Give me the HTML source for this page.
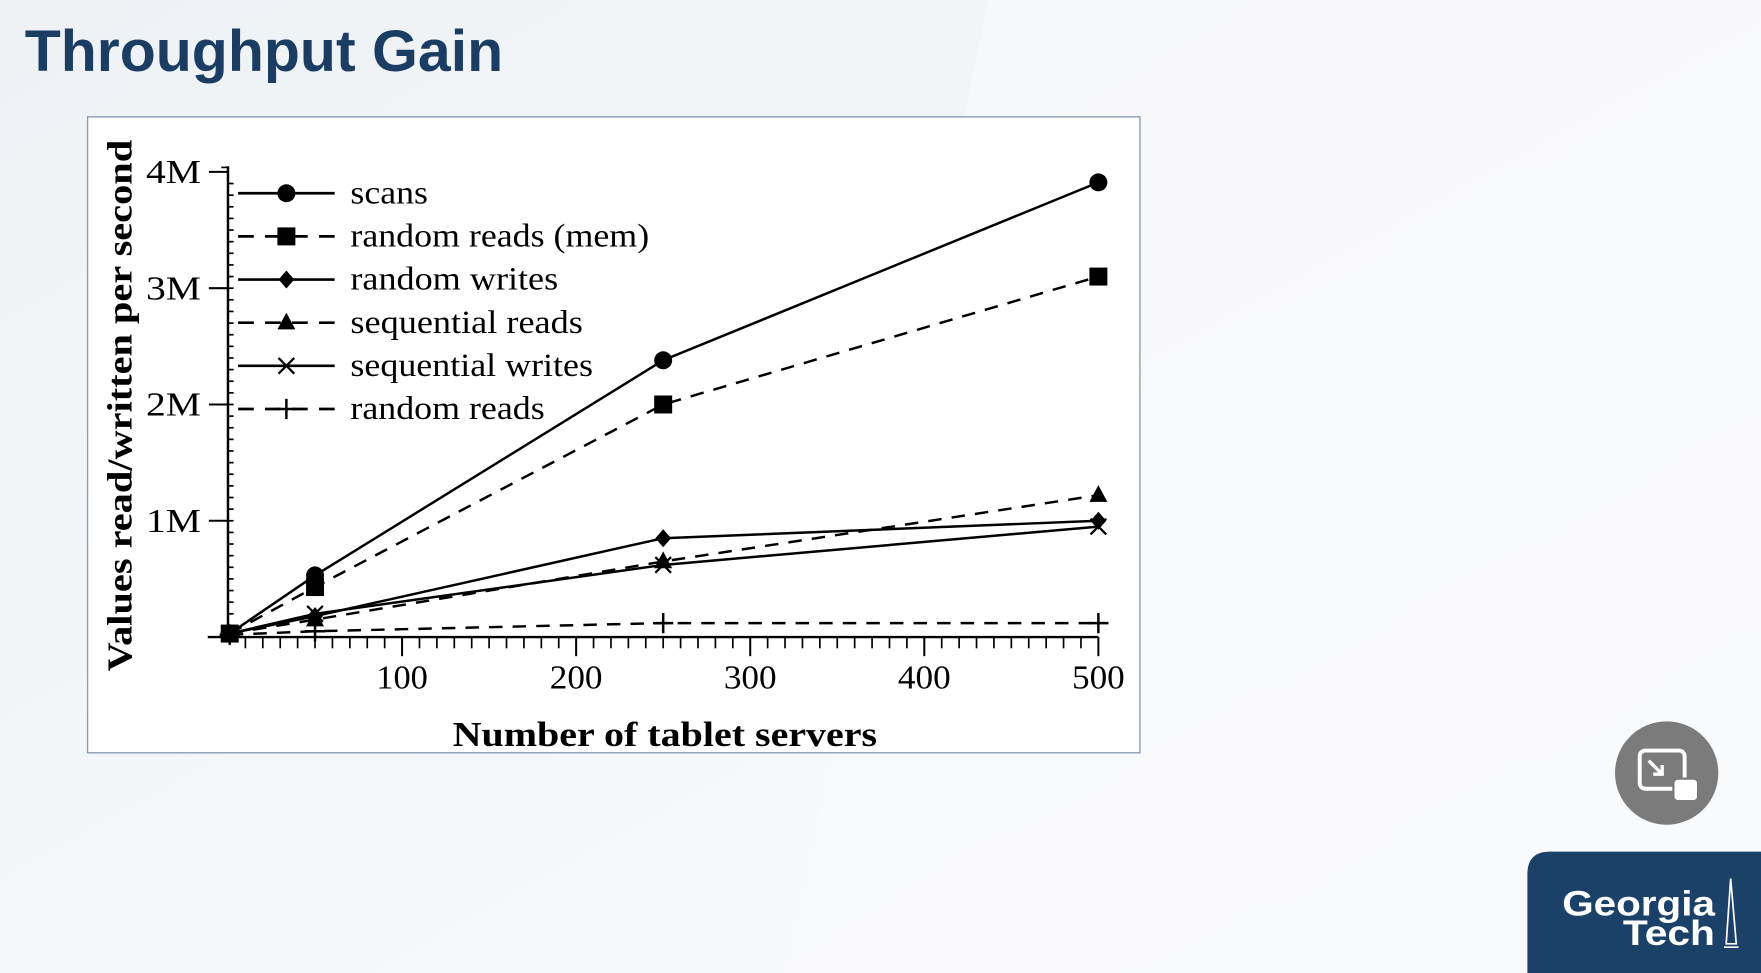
<!DOCTYPE html>
<html><head><meta charset="utf-8"><style>
html,body{margin:0;padding:0;width:1761px;height:973px;overflow:hidden;background:#f4f6f8}
svg{display:block}
</style></head><body>
<svg id="chart" width="1761" height="973" viewBox="0 0 1568 866" preserveAspectRatio="none" xmlns="http://www.w3.org/2000/svg">
<defs><linearGradient id="bg" x1="0" y1="0" x2="1" y2="1"><stop offset="0" stop-color="#eef2f5"/><stop offset="1" stop-color="#fafbfc"/></linearGradient></defs>
<rect width="1568" height="866" fill="url(#bg)"/>
<polygon points="880,0 1568,0 1568,866 700,866" fill="#f9fafb" opacity="0.7"/>
<text x="22" y="63" textLength="426" lengthAdjust="spacingAndGlyphs" font-family="Liberation Sans, sans-serif" font-weight="bold" font-size="52" fill="#1b3d63">Throughput Gain</text>
<rect x="78" y="104" width="937" height="566" fill="#fff" stroke="#8a9bb0" stroke-width="1.2"/>
<g id="plot"></g>
<circle cx="1484" cy="688" r="46" fill="#7b7b7b"/>
<rect x="1460" y="668" width="40" height="34" rx="5" fill="none" stroke="#fff" stroke-width="3.5"/>
<rect x="1490" y="693" width="22" height="20" rx="4" fill="#fff" stroke="#7b7b7b" stroke-width="2"/>
<path d="M1468,677 L1480,689 M1480,681 L1480,689 L1472,689" stroke="#fff" stroke-width="3" fill="none"/>
<path d="M1360,866 L1360,778 Q1360,758 1380,758 L1568,758 L1568,866 Z" fill="#1c4169"/>
<text x="1527" y="815" textLength="136" lengthAdjust="spacingAndGlyphs" text-anchor="end" font-family="Liberation Sans, sans-serif" font-weight="bold" font-size="31" fill="#fff">Georgia</text>
<text x="1527" y="841" textLength="82" lengthAdjust="spacingAndGlyphs" text-anchor="end" font-family="Liberation Sans, sans-serif" font-weight="bold" font-size="31" fill="#fff">Tech</text>
<path d="M1541,782 L1537,840 L1546,840 Z M1535,843 L1548,843" stroke="#fff" stroke-width="1.5" fill="none"/>
</svg>
<script>
const xValues = [1, 50, 250, 500];
const seriesNames = ["scans","random reads (mem)","random writes","sequential reads","sequential writes","random reads"];
const scans = [0.03, 0.53, 2.38, 3.91];
const randomReadsMem = [0.03, 0.43, 2.0, 3.1];
const randomWrites = [0.03, 0.18, 0.85, 1.0];
const sequentialReads = [0.03, 0.15, 0.65, 1.22];
const sequentialWrites = [0.03, 0.2, 0.62, 0.95];
const randomReads = [0.02, 0.05, 0.12, 0.12];
const xTicks = [100, 200, 300, 400, 500];
const yTicks = [1, 2, 3, 4];
const yTickLabels = ["1M","2M","3M","4M"];
const legendWidths = [69, 266, 185, 207, 216, 173];

const NS = "http://www.w3.org/2000/svg";
const g = document.getElementById('plot');
const X = v => 203 + v * 1.55;
const Y = v => 567 - v * 103.5;
function el(tag, attrs, text){const e=document.createElementNS(NS,tag);for(const k in attrs)e.setAttribute(k,attrs[k]);if(text!==undefined)e.textContent=text;g.appendChild(e);return e;}
const serif = "Liberation Serif, serif";

let a = el('line',{x1:203,y1:148,x2:203,y2:567,stroke:'#000','stroke-width':2.2});


a = el('line',{x1:185,y1:567,x2:X(500),y2:567,stroke:'#000','stroke-width':2.2});


el('line',{x1:197,y1:Y(4)-4,x2:203,y2:Y(4)-4,stroke:'#000','stroke-width':1.5});
for(let v=0.1; v<4.0; v+=0.1){el('line',{x1:203,y1:Y(v),x2:208,y2:Y(v),stroke:'#000','stroke-width':1.5});}
for(let v=10; v<=500; v+=10){const major=v%100===0;el('line',{x1:X(v),y1:567,x2:X(v),y2:567+(major?17:10),stroke:'#000','stroke-width':major?1.8:1.5});}
xTicks.forEach(v=>{const t=el('text',{x:X(v),y:613,'text-anchor':'middle','font-family':serif,'font-size':30,textLength:(v===100?46:47),lengthAdjust:'spacingAndGlyphs'},String(v));

});
yTicks.forEach((v,i)=>{el('line',{x1:186,y1:Y(v),x2:203,y2:Y(v),stroke:'#000','stroke-width':1.8});
const t=el('text',{x:179,y:Y(v)+10,'text-anchor':'end','font-family':serif,'font-size':30,textLength:49,lengthAdjust:'spacingAndGlyphs'},yTickLabels[i]);

});
let t = el('text',{x:592,y:664,'text-anchor':'middle','font-family':serif,'font-weight':'bold','font-size':31,textLength:378,lengthAdjust:'spacingAndGlyphs'},'Number of tablet servers');


t = el('text',{x:0,y:0,transform:'translate(117,361) rotate(-90)','text-anchor':'middle','font-family':serif,'font-weight':'bold','font-size':31,textLength:473,lengthAdjust:'spacingAndGlyphs'},'Values read/written per second');



function marker(type,x,y,name){let m;
 if(type==='circle') m=el('circle',{cx:x,cy:y,r:8,fill:'#000'});
 else if(type==='square') m=el('rect',{x:x-8,y:y-8,width:16,height:16,fill:'#000'});
 else if(type==='diamond') m=el('polygon',{points:`${x},${y-8} ${x+7},${y} ${x},${y+8} ${x-7},${y}`,fill:'#000'});
 else if(type==='triangle') m=el('polygon',{points:`${x},${y-9} ${x+8},${y+6} ${x-8},${y+6}`,fill:'#000'});
 else if(type==='x') m=el('path',{d:`M${x-7},${y-7}L${x+7},${y+7}M${x+7},${y-7}L${x-7},${y+7}`,stroke:'#000','stroke-width':2});
 else m=el('path',{d:`M${x-9},${y}L${x+9},${y}M${x},${y-9}L${x},${y+9}`,stroke:'#000','stroke-width':2.2});
 
 }

const seriesData=[scans,randomReadsMem,randomWrites,sequentialReads,sequentialWrites,randomReads];
const markers=['circle','square','diamond','triangle','x','plus'];
const dashed=[false,true,false,true,false,true];
seriesData.forEach((s,i)=>{
 const p=el('polyline',{points:s.map((v,j)=>X(xValues[j])+','+Y(v)).join(' '),fill:'none',stroke:'#000','stroke-width':2.2,'stroke-dasharray':dashed[i]?'12,9':'none'});
 
 
 s.forEach((v,j)=>marker(markers[i],X(xValues[j]),Y(v),'point-'+i+'-'+j));
 const ly=172+i*38.4;
 const l=el('line',{x1:212,y1:ly,x2:298,y2:ly,stroke:'#000','stroke-width':2.4,'stroke-dasharray':dashed[i]?'14,10':'none'});
 
 
 marker(markers[i],255,ly,'legend-marker');
 const lt=el('text',{x:312,y:ly+9,'font-family':serif,'font-size':29,textLength:legendWidths[i],lengthAdjust:'spacingAndGlyphs'},seriesNames[i]);
 
 
});
</script>
</body></html>
